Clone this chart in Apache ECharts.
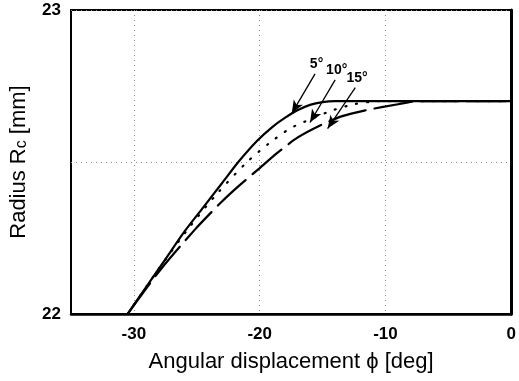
<!DOCTYPE html>
<html>
<head>
<meta charset="utf-8">
<script src="https://cdn.jsdelivr.net/npm/echarts@6/dist/echarts.min.js"></script>
<style>
  html, body { margin: 0; padding: 0; background: #fff; }
  #chart { width: 519px; height: 381px; }
</style>
</head>
<body>
<div id="chart"></div>
<script>
// tick labels
const xTicks = [-30, -20, -10, 0]
const yTicks = [22, 23]

// 5 deg (solid)
const phi5 = [-30.5, -29, -27.5, -26, -24.5, -23, -21.7, -20.2, -19, -18, -17, -16, -15, -14, -12, 0]
const r5 = [22.0, 22.09, 22.18, 22.27, 22.35, 22.43, 22.5, 22.57, 22.615, 22.645, 22.67, 22.688, 22.697, 22.7, 22.7, 22.7]

// 10 deg (dotted)
const phi10 = [-30.5, -28, -25.5, -23.3, -21, -19.3, -17.6, -16, -14.2, -12.5, -10.5, 0]
const r10 = [22.0, 22.15, 22.29, 22.4, 22.5, 22.56, 22.61, 22.64, 22.67, 22.69, 22.7, 22.7]

// 15 deg (dashed)
const phi15 = [-30.5, -28, -25.1, -23, -21.7, -20, -18.6, -17, -15.2, -13.5, -11.6, -9, -7.5, 0]
const r15 = [22.0, 22.14, 22.28, 22.37, 22.42, 22.48, 22.53, 22.58, 22.62, 22.65, 22.67, 22.69, 22.7, 22.7]

// arrow annotations: label, start [phi, R], tip [phi, R]
const arrowLabels = ['5°', '10°', '15°']
const arrowFrom = [[-15.6, 22.79], [-14.0, 22.77], [-12.4, 22.745]]
const arrowTo = [[-17.45, 22.66], [-16.0, 22.63], [-14.6, 22.61]]

const zip = (a, b) => a.map((v, i) => [v, b[i]])

const chart = echarts.init(document.getElementById('chart'))

const lineSeries = (name, x, y, dash) => ({
  name,
  type: 'line',
  data: zip(x, y),
  smooth: 0.25,
  symbol: 'none',
  lineStyle: { color: '#000', width: 2.2, type: dash, cap: 'round' },
  z: 3,
})

const option = {
  animation: false,
  grid: {
    left: 67, right: 4, top: 10, bottom: 67,
    show: true, borderColor: '#000', borderWidth: 2,
  },
  xAxis: {
    type: 'value',
    min: -35,
    max: 0,
    name: 'Angular displacement ϕ [deg]',
    nameLocation: 'middle',
    nameGap: 37,
    nameTextStyle: { fontFamily: 'Liberation Sans', fontSize: 22, color: '#000' },
    axisLine: { show: true, onZero: false, lineStyle: { color: '#000', width: 2.5 } },
    axisTick: { show: false, customValues: xTicks },
    axisLabel: {
      customValues: xTicks,
      margin: 12,
      fontFamily: 'Liberation Sans',
      fontWeight: 'bold',
      fontSize: 17,
      color: '#000',
    },
    splitLine: { show: true, lineStyle: { color: '#888', type: [1, 4], width: 1 } },
  },
  yAxis: {
    type: 'value',
    min: 22,
    max: 23,
    interval: 0.5,
    name: 'Radius R{s|c} [mm]',
    nameLocation: 'middle',
    nameGap: 41,
    nameTextStyle: {
      fontFamily: 'Liberation Sans', fontSize: 22, color: '#000',
      rich: { s: { fontFamily: 'Liberation Sans', fontSize: 16, color: '#000', padding: [6, 0, 0, 0] } },
    },
    axisLine: { show: true, lineStyle: { color: '#000', width: 3 } },
    axisTick: { show: false },
    axisLabel: {
      margin: 10,
      fontFamily: 'Liberation Sans',
      fontWeight: 'bold',
      fontSize: 17,
      color: '#000',
      formatter: v => (yTicks.includes(v) ? String(v) : ''),
    },
    splitLine: { show: true, lineStyle: { color: '#888', type: [1, 4], width: 1 } },
  },
  series: [
    lineSeries('5°', phi5, r5, 'solid'),
    lineSeries('10°', phi10, r10, [1, 10]),
    lineSeries('15°', phi15, r15, [38, 9]),
    {
      type: 'line',
      data: [],
      markLine: {
        silent: true,
        symbol: ['none', 'arrow'],
        symbolSize: [8, 13],
        lineStyle: { color: '#000', width: 1.3, type: 'solid' },
        label: {
          show: true,
          position: 'start',
          distance: 3,
          fontFamily: 'Liberation Sans',
          fontWeight: 'bold',
          fontSize: 14,
          color: '#000',
          formatter: p => p.name,
        },
        data: arrowLabels.map((name, i) => [
          { name, coord: arrowFrom[i] },
          { coord: arrowTo[i] },
        ]),
      },
    },
  ],
}

chart.setOption(option)
</script>
</body>
</html>
